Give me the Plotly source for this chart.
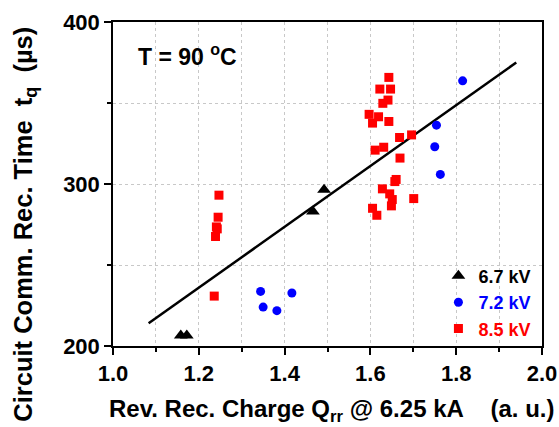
import plotly.graph_objects as go

# 6.7 kV (black triangles)
x67 = [1.158, 1.172, 1.466, 1.492]
y67 = [206.5, 206.5, 283, 296.5]

# 7.2 kV (blue circles)
x72 = [1.344, 1.350, 1.382, 1.417, 1.750, 1.754, 1.763, 1.815]
y72 = [233.7, 224, 221.8, 232.7, 323, 336.3, 305.9, 363.7]

# 8.5 kV (red squares)
x85 = [1.247, 1.245, 1.241, 1.243, 1.239, 1.236,
       1.643, 1.622, 1.647, 1.641, 1.629, 1.597, 1.619, 1.605, 1.643, 1.696,
       1.668, 1.631, 1.611, 1.669, 1.660, 1.657, 1.628, 1.645, 1.651, 1.701,
       1.649, 1.605, 1.615]
y85 = [293.1, 279.5, 273.5, 272.3, 267.6, 230.8,
       365.8, 358.6, 358.6, 351.8, 349.8, 343, 341.5, 337.6, 338.6, 330.3,
       328.7, 322.7, 320.9, 316, 302.8, 301.5, 297, 293.9, 290.4, 291,
       286.5, 285, 280.7]

# linear fit line
fit_x = [1.083, 1.940]
fit_y = [214.0, 375.0]

FONT = "Liberation Sans, Arial, sans-serif"
NB = "\u00a0"

fig = go.Figure()
fig.add_trace(go.Scatter(x=fit_x, y=fit_y, mode="lines",
                         line=dict(color="black", width=2.5), showlegend=False))
fig.add_trace(go.Scatter(x=x67, y=y67, mode="markers", name="<b>6.7 kV</b>",
                         marker=dict(symbol="triangle-up", size=12, color="black")))
fig.add_trace(go.Scatter(x=x72, y=y72, mode="markers",
                         name="<b><span style='color:blue'>7.2 kV</span></b>",
                         marker=dict(symbol="circle", size=9, color="blue")))
fig.add_trace(go.Scatter(x=x85, y=y85, mode="markers",
                         name="<b><span style='color:red'>8.5 kV</span></b>",
                         marker=dict(symbol="square", size=9, color="red")))

axis_common = dict(showline=True, linecolor="black", linewidth=1.5, mirror=True,
                   ticks="outside", tickcolor="black", tickwidth=1.5, ticklen=7,
                   showgrid=True, gridcolor="#c8c8c8", griddash="dot", gridwidth=1,
                   zeroline=False, automargin=False,
                   tickfont=dict(family=FONT, size=22, color="black", weight="bold"))

fig.update_xaxes(range=[1.0, 2.0], dtick=0.2, tick0=1.0, tickformat=".1f",
                 minor=dict(dtick=0.1, ticks="outside", ticklen=4, tickcolor="black",
                            showgrid=True, gridcolor="#c8c8c8", griddash="dot"),
                 **axis_common)
fig.update_yaxes(range=[200, 400], dtick=100, tick0=200,
                 minor=dict(dtick=50, ticks="outside", ticklen=4, tickcolor="black",
                            showgrid=True, gridcolor="#c8c8c8", griddash="dot"),
                 **axis_common)

# axis titles
fig.add_annotation(x=0.510, y=-0.20, xref="paper", yref="paper", xanchor="center", yanchor="middle",
                   text="<b>Rev. Rec. Charge Q<sub>rr</sub> @ 6.25 kA" + NB * 4 + "(a. u.)</b>",
                   showarrow=False, font=dict(family=FONT, size=24, color="black"))
fig.add_annotation(x=-0.207, y=0.375, xref="paper", yref="paper", xanchor="center", yanchor="middle",
                   textangle=-90,
                   text="<b>Circuit Comm. Rec. Time" + NB * 2 + "t<sub>q</sub>" + NB * 2 + "(\u00b5s)</b>",
                   showarrow=False, font=dict(family=FONT, size=25.5, color="black"))

fig.add_annotation(x=0.054, y=0.898, xref="paper", yref="paper", xanchor="left", yanchor="middle",
                   text="<b>T = 90 <sup>o</sup>C</b>", showarrow=False,
                   font=dict(family=FONT, size=23, color="black"))

fig.update_layout(width=559, height=427,
                  margin=dict(l=113, r=17, t=22, b=81),
                  plot_bgcolor="white", paper_bgcolor="white",
                  legend=dict(x=0.987, y=-0.005, xanchor="right", yanchor="bottom",
                              bgcolor="rgba(0,0,0,0)",
                              font=dict(family=FONT, size=18, color="black"),
                              itemwidth=30, tracegroupgap=0))

fig.write_html("out.html",
               config={"displayModeBar": False},
               post_script="document.body.style.margin='0';document.body.style.overflow='hidden';")
